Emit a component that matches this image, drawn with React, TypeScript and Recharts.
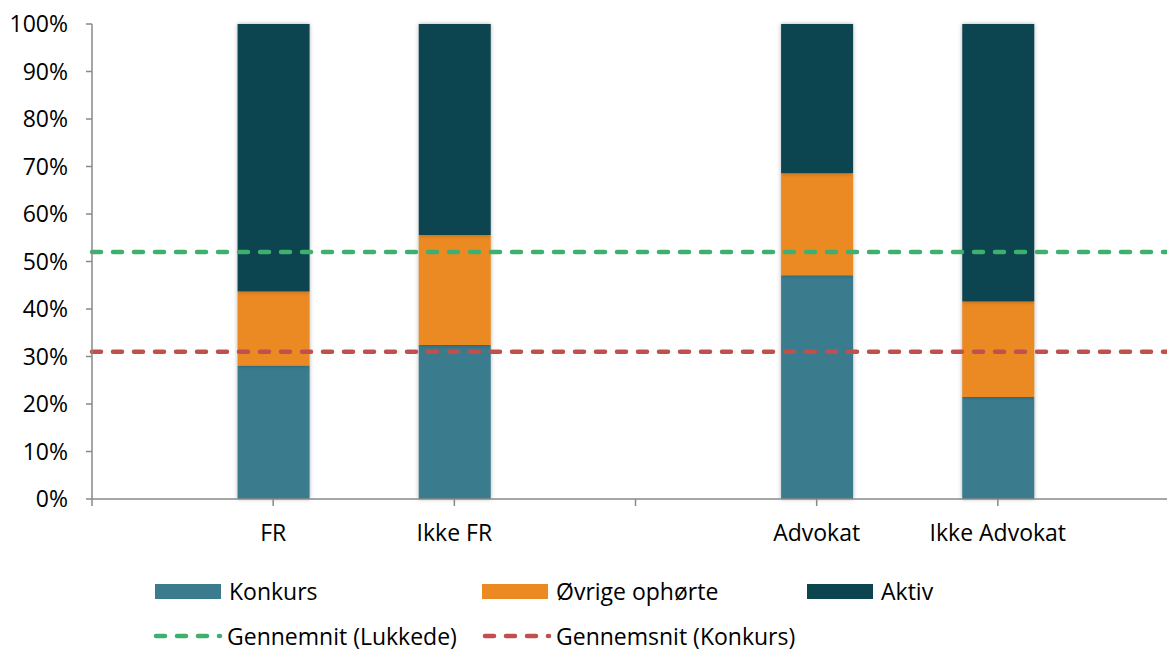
import { Bar, ComposedChart, Line, XAxis, YAxis } from 'recharts';

// category slots on the axis (empty slots are spacers, as in the original sheet)
const slots = ['', 'FR', 'Ikke FR', '', 'Advokat', 'Ikke Advokat', ''];
const konkurs = [null, 28.1, 32.4, null, 47.1, 21.5, null];
const ovrige = [null, 15.6, 23.2, null, 21.5, 20.1, null];
const aktiv = [null, 56.3, 44.4, null, 31.4, 58.4, null];
const snitLukkede = 52;
const snitKonkurs = 31;

const COLORS = {
    konkurs: '#3A7C8E',
    ovrige: '#EB8A22',
    aktiv: '#0C4450',
    lukkede: '#3FAF70',
    snit: '#C0504D',
};

const font = '"Open Sans", sans-serif';
const fs = 23;

const data = slots.map((name, i) => ({
    x: i,
    name,
    Konkurs: konkurs[i],
    'Øvrige ophørte': ovrige[i],
    Aktiv: aktiv[i],
    'Gennemnit (Lukkede)': snitLukkede,
    'Gennemsnit (Konkurs)': snitKonkurs,
}));

const barLegend = [
    { label: 'Konkurs', color: COLORS.konkurs, left: 155 },
    { label: 'Øvrige ophørte', color: COLORS.ovrige, left: 482 },
    { label: 'Aktiv', color: COLORS.aktiv, left: 807 },
];

const lineLegend = [
    { label: 'Gennemnit (Lukkede)', color: COLORS.lukkede, left: 153 },
    { label: 'Gennemsnit (Konkurs)', color: COLORS.snit, left: 482 },
];

export default function App() {
    const shadow = { filter: 'drop-shadow(0px 0px 2px rgba(0,0,0,0.3))' };
    const row = { position: 'absolute' as const, height: 24, lineHeight: '24px', display: 'flex', alignItems: 'center', fontSize: fs };
    return (
        <div style={{ position: 'absolute', left: 0, top: 0, width: 1167, height: 651, overflow: 'hidden', background: '#fff', fontFamily: font }}>
            <ComposedChart width={1191} height={560} data={data} margin={{ top: 24, right: 12, left: 0, bottom: 0 }}>
                <XAxis
                    dataKey="x"
                    type="number"
                    domain={[0, 6]}
                    ticks={[0, 1, 2, 3, 4, 5, 6]}
                    tickFormatter={(v) => slots[v] ?? ''}
                    stroke="#898989"
                    strokeWidth={1.5}
                    tickSize={7}
                    tickMargin={19}
                    height={61}
                    tick={{ fill: '#000', fontSize: fs, fontFamily: font }}
                />
                <YAxis
                    domain={[0, 100]}
                    ticks={[0, 10, 20, 30, 40, 50, 60, 70, 80, 90, 100]}
                    tickFormatter={(v) => `${v}%`}
                    width={92}
                    stroke="#898989"
                    strokeWidth={1.5}
                    tickSize={6}
                    tickMargin={18}
                    tick={{ fill: '#000', fontSize: fs, fontFamily: font }}
                />
                <Bar dataKey="Konkurs" stackId="a" fill={COLORS.konkurs} barSize={72} style={shadow} isAnimationActive={false} />
                <Bar dataKey="Øvrige ophørte" stackId="a" fill={COLORS.ovrige} barSize={72} style={shadow} isAnimationActive={false} />
                <Bar dataKey="Aktiv" stackId="a" fill={COLORS.aktiv} barSize={72} style={shadow} isAnimationActive={false} />
                <Line dataKey="Gennemnit (Lukkede)" stroke={COLORS.lukkede} strokeWidth={4.5} strokeDasharray="9 12" strokeLinecap="round" dot={false} isAnimationActive={false} />
                <Line dataKey="Gennemsnit (Konkurs)" stroke={COLORS.snit} strokeWidth={4.5} strokeDasharray="9 12" strokeLinecap="round" dot={false} isAnimationActive={false} />
            </ComposedChart>
            {barLegend.map((item) => (
                <div key={item.label} style={{ ...row, left: item.left, top: 579 }}>
                    <span style={{ width: 66, height: 15, background: item.color, marginRight: 8 }} />
                    <span>{item.label}</span>
                </div>
            ))}
            {lineLegend.map((item) => (
                <div key={item.label} style={{ ...row, left: item.left, top: 624 }}>
                    <svg width={70} height={10} style={{ marginRight: 4 }}>
                        <line x1={3} y1={5} x2={67} y2={5} stroke={item.color} strokeWidth={4.5} strokeDasharray="9 12" strokeLinecap="round" />
                    </svg>
                    <span>{item.label}</span>
                </div>
            ))}
        </div>
    );
}
